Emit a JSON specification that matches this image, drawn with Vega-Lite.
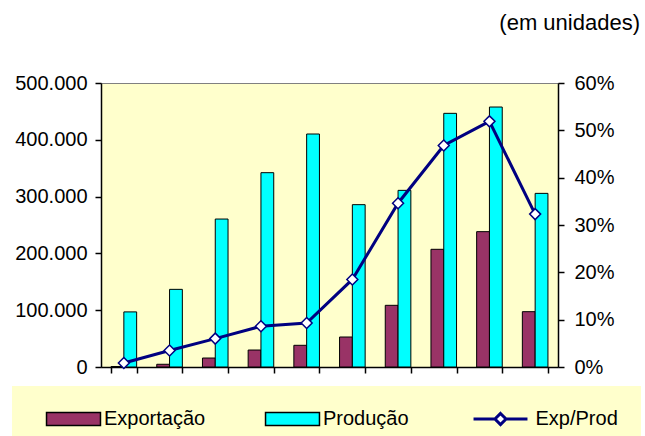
{
  "$schema": "https://vega.github.io/schema/vega-lite/v6.json",
  "width": 457,
  "height": 284,
  "autosize": {"type": "none"},
  "padding": {"left": 101, "top": 83, "right": 87, "bottom": 69},
  "background": "white",
  "title": {"text": "(em unidades)", "anchor": "end", "frame": "group", "dx": 82, "offset": 16, "fontSize": 22, "fontWeight": "normal", "color": "black", "baseline": "bottom", "font": "Liberation Sans"},
  "data": {"values": [
    {"c": 1, "Exportação": 800, "Produção": 97000, "ratio": 0.0085},
    {"c": 2, "Exportação": 4800, "Produção": 136700, "ratio": 0.035},
    {"c": 3, "Exportação": 15800, "Produção": 260500, "ratio": 0.060},
    {"c": 4, "Exportação": 29900, "Produção": 342100, "ratio": 0.086},
    {"c": 5, "Exportação": 38200, "Produção": 410200, "ratio": 0.093},
    {"c": 6, "Exportação": 52800, "Produção": 285800, "ratio": 0.185},
    {"c": 7, "Exportação": 108600, "Produção": 311000, "ratio": 0.346},
    {"c": 8, "Exportação": 207200, "Produção": 446600, "ratio": 0.468},
    {"c": 9, "Exportação": 238300, "Produção": 457700, "ratio": 0.519},
    {"c": 10, "Exportação": 97400, "Produção": 305700, "ratio": 0.323}
  ]},
  "encoding": {
    "x": {"field": "c", "type": "ordinal", "scale": {"paddingInner": 0.44, "paddingOuter": 0.22},
      "axis": {"labels": false, "title": null, "tickBand": "extent", "tickSize": 6, "domainColor": "black", "tickColor": "black", "domainWidth": 1.5, "tickWidth": 1.5}}
  },
  "layer": [
    {
      "transform": [{"fold": ["Exportação", "Produção"], "as": ["serie", "valor"]}],
      "mark": {"type": "bar", "stroke": "black", "strokeWidth": 1, "opacity": 1},
      "encoding": {
        "xOffset": {"field": "serie", "type": "nominal", "scale": {"domain": ["Exportação", "Produção"], "paddingInner": 0, "paddingOuter": 0}},
        "y": {"field": "valor", "type": "quantitative", "scale": {"domain": [0, 500000]},
          "axis": {"title": null, "values": [0, 100000, 200000, 300000, 400000, 500000], "labelExpr": "replace(format(datum.value, ','), ',', '.')", "grid": false, "tickSize": 6, "labelPadding": 8, "labelFontSize": 20, "labelColor": "black", "domainColor": "black", "tickColor": "black", "domainWidth": 1.5, "tickWidth": 1.5}},
        "color": {"field": "serie", "type": "nominal",
          "scale": {"domain": ["Exportação", "Produção"], "range": ["#993366", "#00FFFF"]},
          "legend": {
            "orient": "none", "legendX": -89, "legendY": 303, "direction": "horizontal", "columns": 2,
            "columnPadding": 48, "title": null, "fillColor": "#FFFFCC", "padding": 23,
            "symbolType": "M-4.15,-1H4.15V1H-4.15Z", "symbolSize": 169, "symbolStrokeColor": "black", "symbolStrokeWidth": 1.5,
            "symbolOpacity": 1,
            "labelFontSize": 20, "labelFont": "Liberation Sans", "labelColor": "black",
            "labelOffset": 20.5, "labelLimit": 300, "symbolOffset": 28.5
          }}
      }
    },
    {
      "layer": [
        {
          "mark": {"type": "line", "strokeWidth": 3},
          "encoding": {
            "y": {"field": "ratio", "type": "quantitative", "scale": {"domain": [0, 0.6]},
              "axis": {"title": null, "orient": "right", "values": [0, 0.1, 0.2, 0.3, 0.4, 0.5, 0.6], "format": ".0%", "grid": false, "tickSize": 6, "labelPadding": 10, "labelFontSize": 20, "labelColor": "black", "domainColor": "black", "tickColor": "black", "domainWidth": 1.5, "tickWidth": 1.5}},
            "stroke": {"datum": "Exp/Prod", "type": "nominal", "scale": {"domain": ["Exp/Prod"], "range": ["#000080"]},
              "legend": {
                "orient": "none", "legendX": 314, "legendY": 303, "title": null, "fillColor": "#FFFFCC", "padding": 23,
                "symbolType": "M-4.15,0H-0.85M0.85,0H4.15M0,-0.85L0.85,0L0,0.85L-0.85,0Z", "symbolSize": 169,
                "symbolFillColor": "white", "symbolStrokeWidth": 3, "symbolOpacity": 1,
                "labelFontSize": 20, "labelFont": "Liberation Sans", "labelColor": "black",
                "labelOffset": 25, "labelLimit": 300, "symbolOffset": 52.5
              }}
          }
        },
        {
          "mark": {"type": "point", "shape": "diamond", "filled": true, "fill": "white", "stroke": "#000080", "strokeWidth": 1.5, "size": 120, "opacity": 1},
          "encoding": {
            "y": {"field": "ratio", "type": "quantitative"}
          }
        }
      ]
    }
  ],
  "resolve": {"scale": {"y": "independent"}},
  "config": {
    "font": "Liberation Sans",
    "view": {"fill": "#FFFFCC", "stroke": "#808080"},
    "axis": {"labelFont": "Liberation Sans"}
  }
}
